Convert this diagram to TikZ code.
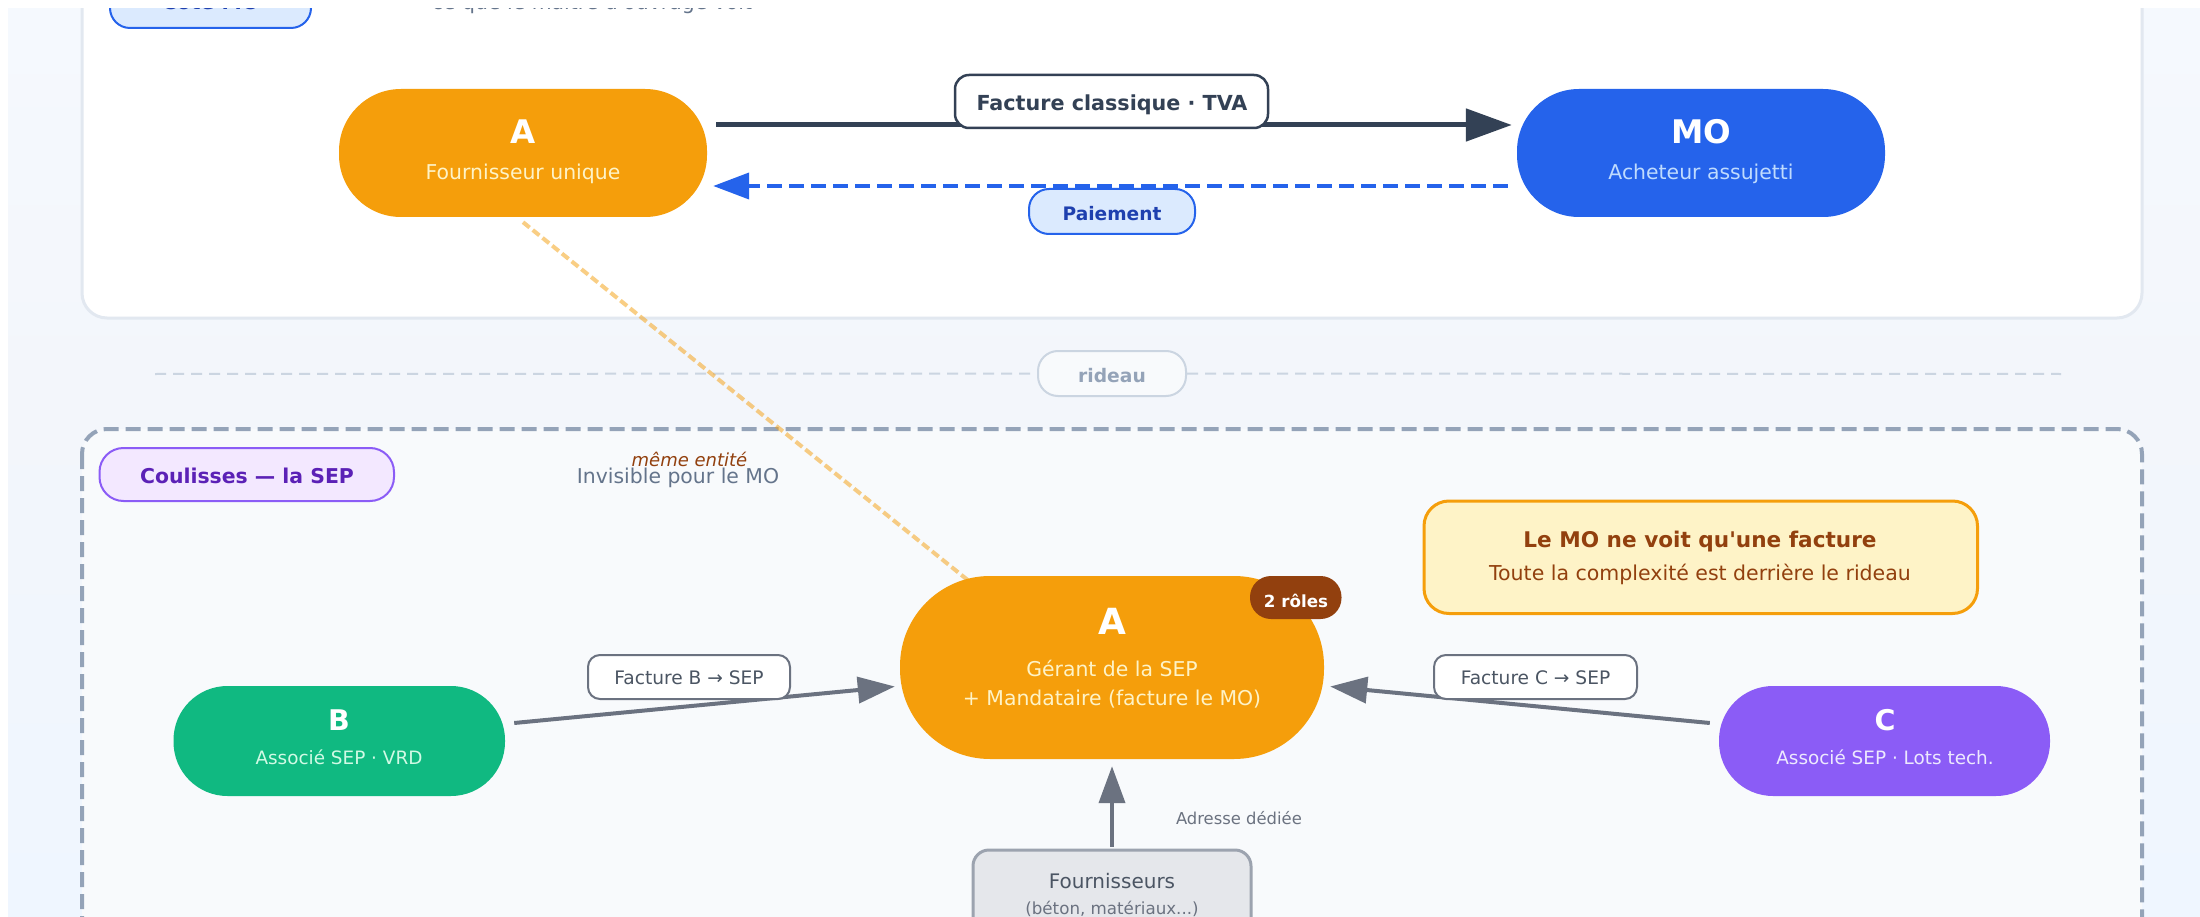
\documentclass[tikz,border=0pt]{standalone}
\usepackage{fontspec}
\setmainfont{DejaVu Sans}
\newfontfamily\plainfont{DejaVu Sans}
\usetikzlibrary{arrows.meta,calc}
\definecolor{cBgTop}{HTML}{F5F9FE}
\definecolor{cBgMid}{HTML}{F3F6FB}
\definecolor{cBgBot}{HTML}{EFF6FF}
\definecolor{cAmber}{HTML}{F59E0B}
\definecolor{cBlue}{HTML}{2563EB}
\definecolor{cBlueFill}{HTML}{DBEAFE}
\definecolor{cBlueDark}{HTML}{1E40AF}
\definecolor{cBlueSub}{HTML}{BFDBFE}
\definecolor{cGreen}{HTML}{10B981}
\definecolor{cGreenSub}{HTML}{D1FAE5}
\definecolor{cViolet}{HTML}{8B5CF6}
\definecolor{cVioletFill}{HTML}{F3E8FF}
\definecolor{cVioletDark}{HTML}{5B21B6}
\definecolor{cVioletSub}{HTML}{EDE9FE}
\definecolor{cSlate}{HTML}{334155}
\definecolor{cSlateMid}{HTML}{64748B}
\definecolor{cSlateLine}{HTML}{94A3B8}
\definecolor{cSlateSoft}{HTML}{CBD5E1}
\definecolor{cPanelEdge}{HTML}{E2E8F0}
\definecolor{cPanelFill}{HTML}{F8FAFC}
\definecolor{cGray}{HTML}{6B7280}
\definecolor{cGrayDark}{HTML}{4B5563}
\definecolor{cGrayEdge}{HTML}{9CA3AF}
\definecolor{cGrayFill}{HTML}{E5E7EB}
\definecolor{cBrown}{HTML}{92400E}
\definecolor{cCream}{HTML}{FEF3C7}
\newcommand{\fsz}[1]{\fontsize{#1pt}{#1pt}\selectfont}
\tikzset{
  x=1pt,y=-1pt,
  blob/.style={draw=none,fill=#1,inner sep=0pt},
  txt/.style={anchor=base,inner sep=0pt,outer sep=0pt,text=#1},
  pillbox/.style={rectangle,draw=#1,line width=2pt,inner sep=0pt},
  grayarrow/.style={draw=cGray,line width=4pt,-{Triangle[length=37pt,width=26pt]}},
}
\newcommand{\boxat}[7]{% name, x0, y0, x1, y1, r, style
  \node[#7,rounded corners=#6pt,minimum width={(#4-#2)*1pt},minimum height={(#5-#3)*1pt},anchor=center] (#1) at ({(#2+#4)/2},{(#3+#5)/2}) {};}
\begin{document}
\begin{tikzpicture}
\useasboundingbox (0,0) rectangle (2200,917);
\fill[white] (0,0) rectangle (2200,917);
\begin{scope}
\clip (8,9) rectangle (2200,917);
\fill[top color=cBgMid,bottom color=cBgBot] (8,400) rectangle (2200,917);
\fill[top color=cBgTop,bottom color=cBgMid] (8,9) rectangle (2200,400);
% panels
\draw[fill=white,draw=cPanelEdge,line width=3pt,rounded corners=25pt] (82,-60) rectangle (2142,318);
\draw[fill=cPanelFill,draw=cSlateLine,line width=4pt,dash pattern=on 15pt off 7pt,rounded corners=25pt] (82,429) rectangle (2142,1100);
% pill of the top panel and its caption, cut by the top edge
\boxat{topPill}{110}{-30}{311}{28}{20}{pillbox=cBlue,fill=cBlueFill}
\node[txt=cBlueDark] (topPillText) at (210.5,10) {\fsz{20.4}\bfseries Côté MO};
\node[txt=cSlateMid] (topCaption) at (592,10) {\fsz{20.4}\plainfont ce que le maître d'ouvrage voit};
\end{scope}
% curtain
\coordinate (curtainL) at (155,374);
\coordinate (curtainR) at (2061,374);
\boxat{curtain}{1038}{351}{1186}{396}{20}{pillbox=cSlateSoft,fill=cPanelFill}
\draw[cSlateSoft,line width=2pt,dash pattern=on 11pt off 7pt] (curtainL) -- (curtain.west);
\draw[cSlateSoft,line width=2pt,dash pattern=on 11pt off 7pt] (curtain.east) -- (curtainR);
\node[txt=cSlateLine] (curtainText) at (1112,382) {\fsz{18.7}\bfseries rideau};
% nodes
\boxat{aTop}{339}{89}{707}{217}{62}{blob=cAmber}
\boxat{mo}{1517}{89}{1885}{217}{62}{blob=cBlue}
\boxat{nB}{173.5}{686}{505}{796}{54}{blob=cGreen}
\boxat{nC}{1719}{686}{2050}{796}{54}{blob=cViolet}
\boxat{four}{973}{850}{1251}{1000}{16}{draw=cGrayEdge,line width=3pt,fill=cGrayFill}
% same-entity dashed link
\draw[cAmber,opacity=.5,line width=4pt,dash pattern=on 8.5pt off 4pt] ($(aTop.south)+(0,5)$) -- (1000,606);
\boxat{aSep}{900}{576}{1324}{759}{90}{blob=cAmber}
% main arrows
\draw[cSlate,line width=5pt,-{Triangle[length=46pt,width=32pt]}] ($(aTop.east)+(9,-28)$) -- ($(mo.west)+(-5,-28)$);
\draw[cBlue,line width=4pt,dash pattern=on 15pt off 7pt,-{Triangle[length=36pt,width=26pt]}] ($(mo.west)+(-9,33)$) -- ($(aTop.east)+(6,33)$);
\boxat{lClass}{955}{75}{1268}{128}{14}{pillbox=cSlate,line width=2.5pt,fill=white}
\boxat{lPay}{1029}{189}{1195}{234}{20}{pillbox=cBlue,fill=cBlueFill}
\node[txt=cSlate] (lClassText) at (1112,110.5) {\fsz{20.7}\bfseries Facture classique · TVA};
\node[txt=cBlueDark] (lPayText) at (1112,220.5) {\fsz{18.6}\bfseries Paiement};
% node texts
\node[txt=white] (aTopT) at (523,143.5) {\fsz{32.5}\bfseries A};
\node[txt=cCream] (aTopS) at (523,179.5) {\fsz{20.4}Fournisseur unique};
\node[txt=white] (moT) at (1701,143.5) {\fsz{32.5}\bfseries MO};
\node[txt=cBlueSub] (moS) at (1701,179.5) {\fsz{20.4}Acheteur assujetti};
\node[txt=white] (aSepT) at (1112,634) {\fsz{36}\bfseries A};
\node[txt=cCream] (aSepS) at (1112,676) {\fsz{20.4}Gérant de la SEP};
\node[txt=cCream] (aSepS2) at (1112,705) {\fsz{20.4}+ Mandataire (facture le MO)};
\node[txt=white] (bT) at (339,730) {\fsz{28.5}\bfseries B};
\node[txt=cGreenSub] (bS) at (339,764) {\fsz{18.4}Associé SEP · VRD};
\node[txt=white] (cT) at (1885,730) {\fsz{28.5}\bfseries C};
\node[txt=cVioletSub] (cS) at (1885,764) {\fsz{18.4}Associé SEP · Lots tech.};
% badge
\boxat{badge}{1250}{576}{1341.5}{619}{21}{blob=cBrown}
\node[txt=white] (badgeT) at (1296,607) {\fsz{16.7}\bfseries 2 rôles};
% Coulisses
\boxat{coul}{99.5}{448}{394}{501}{24}{pillbox=cViolet,fill=cVioletFill}
\node[txt=cVioletDark] (coulT) at (247,483) {\fsz{20.4}\bfseries Coulisses — la SEP};
\node[txt=cSlateMid] (invis) at (678,483) {\fsz{20.4}Invisible pour le MO};
\node[txt=cBrown] (meme) at (689.5,466) {\fsz{18}\itshape même entité};
% note
\boxat{note}{1424}{501}{1977.5}{613.5}{25}{draw=cAmber,line width=3pt,fill=cCream}
\node[txt=cBrown] (noteT) at (1700,547) {\fsz{21.6}\plainfont\bfseries Le MO ne voit qu'une facture};
\node[txt=cBrown] (noteS) at (1700,580) {\fsz{20.5}Toute la complexité est derrière le rideau};
% gray arrows
\draw[grayarrow] ($(nB.east)+(9,-18)$) -- ($(aSep.west)+(-5,19)$);
\draw[grayarrow] ($(nC.west)+(-9,-18)$) -- ($(aSep.east)+(6,19)$);
\draw[grayarrow] ($(four.north)+(0,-2)$) -- ($(aSep.south)+(0,7)$);
\boxat{lB}{588}{655}{790}{699}{12}{pillbox=cGray,fill=white}
\boxat{lC}{1434}{655}{1637}{699}{12}{pillbox=cGray,fill=white}
\node[txt=cGrayDark] (lBT) at (689,684.5) {\fsz{18.6}Facture B → SEP};
\node[txt=cGrayDark] (lCT) at (1535.5,684.5) {\fsz{18.6}Facture C → SEP};
\node[txt=cGrayDark] (four1) at (1112,888) {\fsz{20}Fournisseurs};
\node[txt=cGray] (four2) at (1112,914) {\fsz{16.7}(béton, matériaux...)};
\node[txt=cGray,anchor=base west] (adr) at (1176,824) {\fsz{16.4}Adresse dédiée};
\end{tikzpicture}
\end{document}
